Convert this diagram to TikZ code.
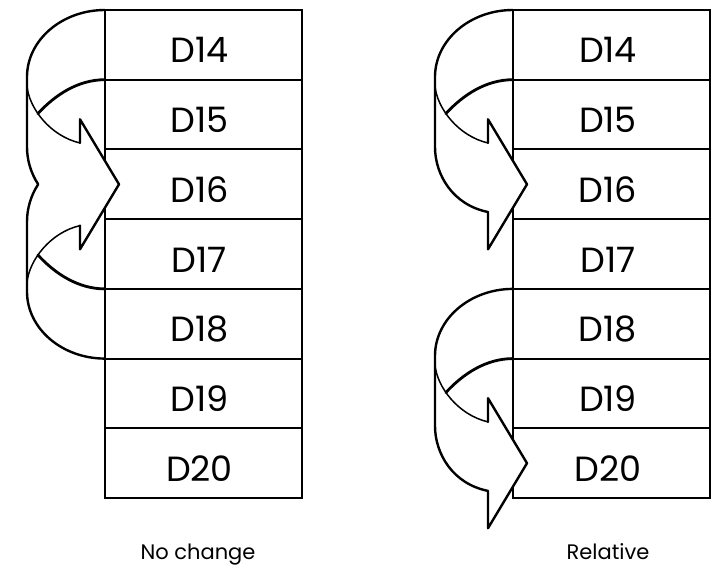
\documentclass[tikz,border=0pt]{standalone}
\usepackage{fontspec}
\setmainfont{Poppins}
\begin{document}
\begin{tikzpicture}[x=1pt,y=-1pt,
  cell/.style={draw, line width=2pt, minimum width=197pt, minimum height=69.7pt,
    inner sep=0pt, outer sep=0pt, anchor=north west,
    font=\fontsize{35}{35}\selectfont, text height=36.3pt, text depth=0pt},
  frame/.style={line width=2.6pt},
  ribbonedge/.style={line width=2.4pt, line join=round, line cap=round},
  ribbonback/.style={line width=1.5pt, line cap=round},
  ribbonfront/.style={line width=2.8pt, line cap=round},
  caption/.style={font=\fontsize{21}{21}\selectfont, anchor=base, inner sep=0pt}]

\useasboundingbox[fill=white] (0,0) rectangle (716,567);

% two register tables
\foreach \n [count=\i from 0] in {14,...,20} {
  \node[cell] (a\n) at (105,10+69.7*\i) {\kern-8pt D\n};
  \node[cell] (b\n) at (513,10+69.7*\i) {\kern-7pt D\n};
}
\draw[frame] (a14.north west) rectangle (a20.south east);
\draw[frame] (b14.north west) rectangle (b20.south east);

% one curled ribbon arrow, origin at the top-left corner of its start row
\newcommand{\curlarrow}[1]{%
\begin{scope}[shift={#1}]
  \fill[white] (-1.3,0) -- (0,0) .. controls (-43,0) and (-78,30) .. (-78,67)
    -- (-78,137) .. controls (-78,165) and (-60,195) .. (-25,202)
    -- (-25,239.3) -- (14,174.3) -- (-25,109.3) -- (-25,133)
    .. controls (-43,128.8) and (-57.8,117) .. (-67.1,103.6)
    .. controls (-50,85) and (-27,69.7) .. (0,69.7) -- (-1.3,69.7) -- cycle;
  \draw[ribbonback] (-78,76) .. controls (-76,98) and (-55,126) .. (-25,133);
  \draw[ribbonedge] (0,0) .. controls (-43,0) and (-78,30) .. (-78,67)
    -- (-78,137) .. controls (-78,165) and (-60,195) .. (-25,202)
    -- (-25,239.3) -- (14,174.3) -- (-25,109.3) -- (-25,133);
  \draw[ribbonfront] (-67.1,103.6) .. controls (-50,85) and (-27,69.7) .. (0,69.7);
\end{scope}}

% "No change": two mirrored ribbons meeting in one head
\begin{scope}[shift={(105,10)}]
  \fill[white] (-1.3,0) -- (0,0) .. controls (-43,0) and (-78,30) .. (-78,67)
    -- (-78,137) .. controls (-78,149.8) and (-74.2,163.1) .. (-66.8,174.3)
    .. controls (-74.2,185.5) and (-78,198.8) .. (-78,211.6)
    -- (-78,281.6) .. controls (-78,318.6) and (-43,348.6) .. (0,348.6)
    -- (-1.3,348.6) -- (-1.3,278.9) -- (0,278.9)
    .. controls (-27,278.9) and (-50,263.6) .. (-67.1,245)
    .. controls (-57.8,231.6) and (-43,219.8) .. (-25,215.6)
    -- (-25,239.3) -- (14,174.3) -- (-25,109.3) -- (-25,133)
    .. controls (-43,128.8) and (-57.8,117) .. (-67.1,103.6)
    .. controls (-50,85) and (-27,69.7) .. (0,69.7) -- (-1.3,69.7) -- cycle;
  \draw[ribbonback] (-78,76) .. controls (-76,98) and (-55,126) .. (-25,133);
  \draw[ribbonback] (-78,272.6) .. controls (-76,250.6) and (-55,222.6) .. (-25,215.6);
  \draw[ribbonedge] (0,0) .. controls (-43,0) and (-78,30) .. (-78,67)
    -- (-78,137) .. controls (-78,149.8) and (-74.2,163.1) .. (-66.8,174.3)
    .. controls (-74.2,185.5) and (-78,198.8) .. (-78,211.6)
    -- (-78,281.6) .. controls (-78,318.6) and (-43,348.6) .. (0,348.6);
  \draw[ribbonedge] (-25,215.6) -- (-25,239.3) -- (14,174.3) -- (-25,109.3) -- (-25,133);
  \draw[ribbonfront] (-67.1,103.6) .. controls (-50,85) and (-27,69.7) .. (0,69.7);
  \draw[ribbonfront] (-67.1,245) .. controls (-50,263.6) and (-27,278.9) .. (0,278.9);
\end{scope}

% "Relative": two separate ribbons
\curlarrow{(513,10)}
\curlarrow{(513,288.9)}

\node[caption] (capA) at (198,559) {No change};
\node[caption] (capB) at (608,559) {Relative};
\end{tikzpicture}
\end{document}
